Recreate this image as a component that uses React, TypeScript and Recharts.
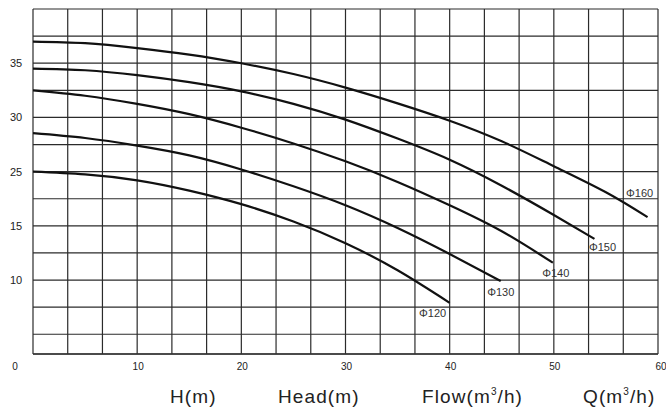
import React from "react";
import { LineChart, Line, XAxis, YAxis, CartesianGrid } from "recharts";

// Flow Q (m3/h) and head values for each impeller diameter
const flow160 = [0, 5, 10, 15, 20, 25, 30, 35, 40, 45, 50, 55, 59];
const head160 = [37.0, 36.85, 36.4, 35.8, 35.0, 34.0, 32.75, 31.3, 29.7, 27.8, 25.5, 23.1, 20.8];

const flow150 = [0, 5, 10, 15, 20, 25, 30, 35, 40, 45, 50, 53.9];
const head150 = [34.5, 34.35, 33.9, 33.25, 32.4, 31.25, 29.8, 28.05, 26.1, 23.7, 21.0, 18.8];

const flow140 = [0, 5, 10, 15, 20, 25, 30, 35, 40, 45, 49.9];
const head140 = [32.5, 32.0, 31.25, 30.3, 29.05, 27.6, 25.95, 24.05, 21.9, 19.5, 16.6];

const flow130 = [0, 5, 10, 15, 20, 25, 30, 35, 40, 44.9];
const head130 = [28.55, 28.1, 27.4, 26.5, 25.2, 23.65, 21.9, 19.8, 17.4, 14.9];

const flow120 = [0, 5, 10, 15, 20, 25, 30, 35, 40];
const head120 = [25.0, 24.75, 24.2, 23.25, 22.0, 20.4, 18.4, 15.9, 12.9];

const seriesNames = ["Φ160", "Φ150", "Φ140", "Φ130", "Φ120"];

// grid ticks and labels
const xGridTicks = [0, 10 / 3, 20 / 3, 10, 40 / 3, 50 / 3, 20, 70 / 3, 80 / 3, 30, 100 / 3, 110 / 3, 40, 130 / 3, 140 / 3, 50, 160 / 3, 170 / 3, 60];
const xLabelTicks = [0, 10, 20, 30, 40, 50, 60];
const yGridTicks = [10, 12.5, 15, 17.5, 20, 22.5, 25, 27.5, 30, 32.5, 35, 37.5, 40];
const yTickValues = [35, 30, 25, 20, 15];
const yTickLabels = ["35", "30", "25", "15", "10"];

const axisTitles = ["H(m)", "Head(m)", "Flow(m³/h)", "Q(m³/h)"];

const build = (q: number[], h: number[]) => q.map((v, i) => ({ q: v, h: h[i] }));
const allData = [
  build(flow160, head160),
  build(flow150, head150),
  build(flow140, head140),
  build(flow130, head130),
  build(flow120, head120),
];

// label placement relative to the end point of each curve
const labelOffsets = [
  { dx: -8, dy: -20 },
  { dx: 8, dy: 12 },
  { dx: 3, dy: 14 },
  { dx: 0, dy: 15 },
  { dx: -17, dy: 14 },
];

const FONT = "'Liberation Sans', Arial, Helvetica, sans-serif";

const XTick = (props: any) => {
  const { x, y, payload } = props;
  const v = payload.value;
  const isLabel = xLabelTicks.some((t) => Math.abs(t - v) < 1e-6);
  if (!isLabel) return <g />;
  const isFirst = Math.abs(v) < 1e-6;
  const isLast = Math.abs(v - 60) < 1e-6;
  return (
    <text
      x={isFirst ? x - 18 : isLast ? x + 3 : x + 1}
      y={y + 16}
      textAnchor="middle"
      fontSize={10}
      fontFamily={FONT}
      fill="#222"
    >
      {String(Math.round(v))}
    </text>
  );
};

const YTick = (props: any) => {
  const { x, y, payload } = props;
  const idx = yTickValues.findIndex((t) => Math.abs(t - payload.value) < 1e-6);
  if (idx < 0) return <g />;
  return (
    <text x={x - 17} y={y + 4} textAnchor="middle" fontSize={11} fontFamily={FONT} fill="#222">
      {yTickLabels[idx]}
    </text>
  );
};

const makeEndLabel = (si: number) => (props: any) => {
  const { x, y, index } = props;
  if (index !== allData[si].length - 1) return <g key={`l${si}-${index}`} />;
  const off = labelOffsets[si];
  return (
    <text key={`l${si}-${index}`} x={x + off.dx} y={y + off.dy} textAnchor="middle" fontSize={11} fontFamily={FONT} fill="#333">
      {seriesNames[si]}
    </text>
  );
};

const titleX = [162, 270, 414, 575];

export default function App() {
  return (
    <div style={{ position: "relative", width: 666, height: 410, overflow: "hidden", background: "#fff" }}>
      <style>{"html,body{margin:0;padding:0;overflow:hidden;}"}</style>
      <div style={{ position: "absolute", left: 8, top: 8, width: 658, height: 402 }}>
        <LineChart width={658} height={402} margin={{ top: 1, right: 8, left: 0, bottom: 0 }} style={{ overflow: "visible" }}>
          <CartesianGrid stroke="#2b2b2b" strokeWidth={1.2} />
          <XAxis
            type="number"
            dataKey="q"
            domain={[0, 60]}
            ticks={xGridTicks}
            interval={0}
            tickLine={false}
            tickSize={0}
            tickMargin={0}
            height={56}
            axisLine={{ stroke: "#333", strokeWidth: 1.5 }}
            tick={<XTick />}
            allowDataOverflow
          />
          <YAxis
            type="number"
            domain={[8.18, 40]}
            ticks={yGridTicks}
            interval={0}
            width={25}
            tickLine={false}
            tickSize={0}
            tickMargin={0}
            axisLine={false}
            tick={<YTick />}
            allowDataOverflow
          />
          {allData.map((d, i) => (
            <Line
              key={seriesNames[i]}
              data={d}
              dataKey="h"
              type="natural"
              stroke="#111"
              strokeWidth={2.2}
              dot={false}
              activeDot={false}
              isAnimationActive={false}
              label={makeEndLabel(i)}
            />
          ))}
        </LineChart>
        <svg width={658} height={402} style={{ position: "absolute", left: 0, top: 0, pointerEvents: "none", overflow: "visible" }}>
          {axisTitles.map((t, i) => {
            const parts = t.split("³");
            return (
              <text key={t} x={titleX[i]} y={395} textAnchor="start" fontSize={19} fontFamily={FONT} fill="#222" letterSpacing={1.1}>
                {parts.length > 1 ? (
                  <>
                    {parts[0]}
                    <tspan fontSize={10} dy={-8}>3</tspan>
                    <tspan dy={8}>{parts[1]}</tspan>
                  </>
                ) : (
                  t
                )}
              </text>
            );
          })}
        </svg>
      </div>
    </div>
  );
}
